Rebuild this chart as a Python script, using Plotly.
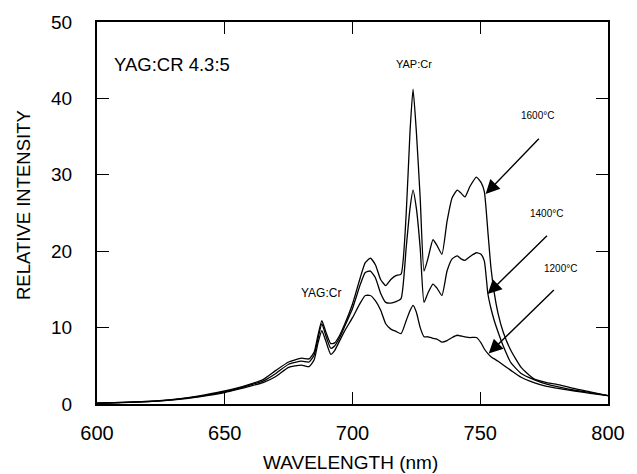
import plotly.graph_objects as go

# Wavelength grid (nm) shared by the three emission spectra
wavelength = [600, 610, 620, 630, 640, 650, 655, 660, 665, 670, 675, 680, 683, 685,
              686.5, 688, 689.5, 691.5, 693, 695, 697, 700, 703, 705, 707, 709, 711,
              713, 715, 717, 719, 721, 722.5, 723.7, 725, 726.5, 728, 729.5, 731.5,
              733, 735, 737, 739, 741, 742.5, 744, 746, 748.5, 750.3, 751.6, 753,
              754.2, 755.5, 757, 759, 762, 766, 771, 776, 781, 787, 793, 800]

# Relative intensity for each firing temperature
intensity_1600 = [0.1, 0.2, 0.35, 0.6, 1.05, 1.7, 2.1, 2.6, 3.2, 4.4, 5.5, 6.0, 5.9, 6.8,
                  9.0, 10.9, 9.5, 7.9, 8.0, 9.0, 10.5, 13.1, 16.5, 18.5, 19.1, 18.2, 16.3,
                  15.5, 16.3, 16.8, 17.0, 24.8, 35.6, 41.2, 35.6, 26.9, 17.4, 19.0, 21.5,
                  20.8, 19.6, 23.9, 27.0, 28.0, 27.6, 27.1, 28.5, 29.7, 29.0, 27.8, 22.5,
                  17.8, 14.5, 11.8, 9.4, 7.0, 4.8, 3.3, 2.8, 2.5, 2.0, 1.6, 1.1]
intensity_1400 = [0.1, 0.2, 0.33, 0.58, 1.0, 1.6, 2.0, 2.5, 3.0, 4.0, 5.2, 5.6, 5.5, 6.4,
                  8.6, 10.5, 9.0, 7.3, 7.6, 8.7, 10.2, 12.5, 15.6, 17.2, 17.4, 16.5, 14.5,
                  13.3, 13.2, 13.4, 13.8, 20.4, 25.6, 28.0, 25.6, 20.4, 13.3, 14.5, 15.7,
                  15.2, 14.2, 17.4, 19.0, 19.4, 19.0, 18.8, 19.3, 19.8, 19.6, 18.7, 14.4,
                  12.5, 10.9, 9.4, 7.6, 5.4, 4.0, 3.2, 2.6, 2.2, 1.8, 1.5, 1.1]
intensity_1200 = [0.1, 0.18, 0.3, 0.55, 0.95, 1.5, 1.9, 2.35, 2.8, 3.6, 4.8, 5.1, 4.9, 5.8,
                  8.0, 9.6, 8.3, 6.5, 7.0, 8.3, 9.6, 11.3, 13.2, 14.2, 14.2, 13.5, 12.3,
                  10.5, 9.8, 9.5, 9.2, 10.9, 12.2, 12.9, 12.0, 10.0, 8.8, 8.8, 8.6,
                  8.5, 8.1, 8.3, 8.7, 9.0, 8.9, 8.8, 8.7, 8.7, 8.0, 7.2, 6.6,
                  6.2, 5.9, 5.6, 5.1, 4.4, 3.5, 2.8, 2.3, 2.0, 1.7, 1.4, 1.1]

x_ticks = [600, 650, 700, 750, 800]
y_ticks = [0, 10, 20, 30, 40, 50]

# Temperature labels with arrow tail/tip positions (data units)
temp_labels = ["1600°C", "1400°C", "1200°C"]
label_xy = [(772.5, 37.7), (776.0, 24.9), (781.3, 17.7)]
arrow_tip = [(752.1, 27.5), (752.9, 14.4), (753.3, 6.6)]
arrow_tail = [(773.5, 34.9), (776.7, 22.2), (779.4, 15.1)]

FONT = "Liberation Sans, Arial, Helvetica, sans-serif"

fig = go.Figure()
for series in (intensity_1600, intensity_1400, intensity_1200):
    fig.add_trace(go.Scatter(
        x=wavelength, y=series, mode="lines",
        line=dict(color="black", width=1.3, shape="spline", smoothing=0.5),
        showlegend=False, hoverinfo="skip",
    ))

annotations = [
    dict(x=606, y=44.5, text="YAG:CR 4.3:5", showarrow=False, xanchor="left",
         font=dict(size=18.5, color="black", family=FONT)),
    dict(x=724, y=44.5, text="YAP:Cr", showarrow=False,
         font=dict(size=11, color="black", family=FONT)),
    dict(x=687.5, y=14.5, text="YAG:Cr", showarrow=False,
         font=dict(size=12, color="black", family=FONT)),
    # axis titles
    dict(x=0.497, y=-0.153, xref="paper", yref="paper", text="WAVELENGTH (nm)",
         xanchor="center", yanchor="middle", showarrow=False,
         font=dict(size=19, color="black", family=FONT)),
    dict(x=-0.144, y=0.522, xref="paper", yref="paper", text="RELATIVE INTENSITY",
         xanchor="center", yanchor="middle", textangle=-90, showarrow=False,
         font=dict(size=18.5, color="black", family=FONT)),
]
for text, (lx, ly) in zip(temp_labels, label_xy):
    annotations.append(dict(x=lx, y=ly, text=text, showarrow=False,
                            font=dict(size=10, color="black", family=FONT)))
for (tx, ty), (sx, sy) in zip(arrow_tip, arrow_tail):
    annotations.append(dict(x=tx, y=ty, ax=sx, ay=sy, xref="x", yref="y",
                            axref="x", ayref="y", text="", showarrow=True,
                            arrowhead=2, arrowsize=2.0, arrowwidth=1.4,
                            arrowcolor="black"))

fig.update_layout(
    width=637, height=474,
    margin=dict(l=97, r=26, t=19, b=70),
    paper_bgcolor="white", plot_bgcolor="white",
    font=dict(family=FONT, color="black", size=18),
    annotations=annotations,
    xaxis=dict(
        range=[600, 800], tickvals=x_ticks, ticktext=[str(v) for v in x_ticks],
        ticks="inside", ticklen=12, tickwidth=1.3, tickcolor="black",
        mirror="ticks", showline=True, linecolor="black", linewidth=2,
        showgrid=False, zeroline=False, ticklabelstandoff=10,
        tickfont=dict(size=20),
    ),
    yaxis=dict(
        range=[0, 50], tickvals=y_ticks, ticktext=[str(v) for v in y_ticks],
        ticks="inside", ticklen=12, tickwidth=1.3, tickcolor="black",
        mirror="ticks", showline=True, linecolor="black", linewidth=2,
        showgrid=False, zeroline=False, ticklabelstandoff=19,
        tickfont=dict(size=19),
    ),
)

fig.write_html("out.html")
